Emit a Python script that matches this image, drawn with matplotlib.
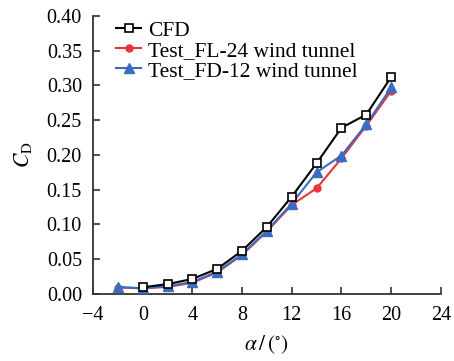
import matplotlib
matplotlib.use("Agg")
import matplotlib.pyplot as plt

plt.rcParams['font.family'] = ['Liberation Serif', 'DejaVu Serif']
plt.rcParams['mathtext.fontset'] = 'stix'

# angle of attack (deg)
alpha_cfd = [0, 2, 4, 6, 8, 10, 12, 14, 16, 18, 20]
cd_cfd = [0.0095, 0.014, 0.0215, 0.036, 0.062, 0.0965, 0.140, 0.188, 0.239, 0.258, 0.312]

alpha_test = [-2, 0, 2, 4, 6, 8, 10, 12, 14, 16, 18, 20]
cd_fl24 = [0.009, 0.008, 0.010, 0.016, 0.031, 0.056, 0.090, 0.128, 0.152, 0.195, 0.242, 0.292]
cd_fd12 = [0.010, 0.008, 0.011, 0.017, 0.032, 0.057, 0.091, 0.130, 0.175, 0.199, 0.244, 0.297]

fig = plt.figure(figsize=(4.54, 3.61), dpi=100)
ax = fig.add_axes([0.205, 0.186, 0.766, 0.770])

ax.plot(alpha_cfd, cd_cfd, color='black', lw=1.5, marker='s', ms=5.5,
        mfc='white', mec='black', mew=1.2, label='CFD', zorder=4)
ax.plot(alpha_test, cd_fl24, color='#e8343c', lw=1.5, marker='o', ms=5,
        label='Test_FL-24 wind tunnel', zorder=3)
ax.plot(alpha_test, cd_fd12, color='#3a6cc0', lw=1.5, marker='^', ms=6.5,
        label='Test_FD-12 wind tunnel', zorder=3)

ax.set_xlim(-4, 24)
ax.set_ylim(0, 0.40)
ax.set_xticks(range(-4, 25, 4))
ax.set_xticklabels(['\u22124'] + [str(v) for v in range(0, 25, 4)])
ax.set_yticks([i * 0.05 for i in range(9)])
ax.set_yticklabels(['%.2f' % (i * 0.05) for i in range(9)])
ax.tick_params(direction='in', labelsize=14.5, length=5, width=1.2, color='#333333')
ax.tick_params(axis='y', pad=8)
ax.tick_params(axis='x', pad=9)

for s in ['top', 'right']:
    ax.spines[s].set_visible(False)
for s in ['left', 'bottom']:
    ax.spines[s].set_linewidth(1.3)
    ax.spines[s].set_color('#333333')

ax.set_xlabel(r'$\alpha\,/\,(^{\circ})$', fontsize=15.5, labelpad=6)
ax.set_ylabel(r'$C_{\mathrm{D}}$', fontsize=15.5, labelpad=9)

ax.legend(loc='upper left', frameon=False, fontsize=15.5, handlelength=1.15,
          handletextpad=0.33, labelspacing=0.0, borderaxespad=0.2,
          bbox_to_anchor=(0.03, 1.03))

fig.savefig('out.png', dpi=100)
